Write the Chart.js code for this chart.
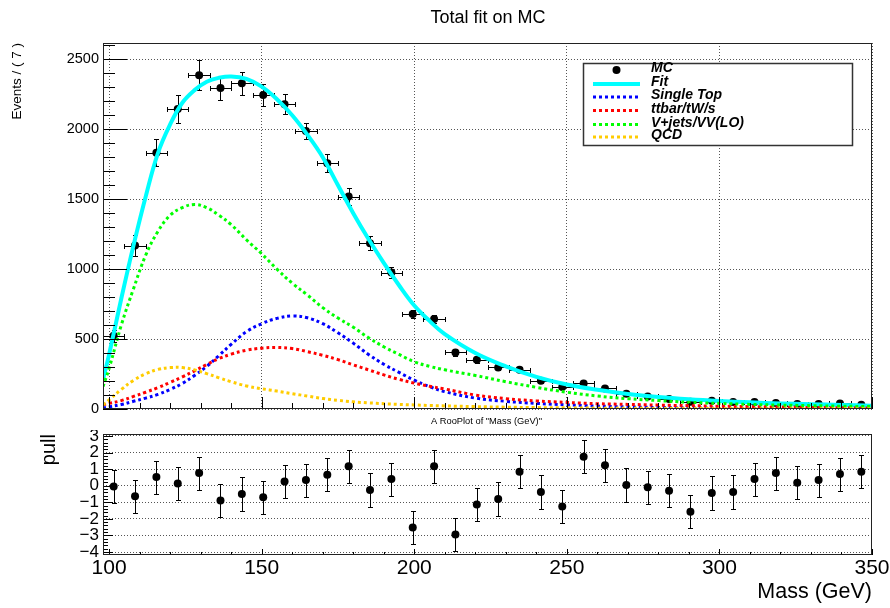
<!DOCTYPE html>
<html>
<head>
<meta charset="utf-8">
<script src="https://cdn.jsdelivr.net/npm/chart.js@4.4.1/dist/chart.umd.min.js"></script>
<style>
  html, body { margin: 0; padding: 0; background: #fff; }
  #wrap { position: relative; width: 890px; height: 608px; }
  canvas { position: absolute; left: 0; }
  #top { top: 0; }
  #pull { top: 430px; }
</style>
</head>
<body>
<div id="wrap">
  <canvas id="top" width="890" height="430"></canvas>
  <canvas id="pull" width="890" height="178"></canvas>
</div>
<script>
// bins: 36 x 7 GeV between 98 and 350
const binCentres = [101.5, 108.5, 115.5, 122.5, 129.5, 136.5, 143.5, 150.5, 157.5, 164.5, 171.5, 178.5,
  185.5, 192.5, 199.5, 206.5, 213.5, 220.5, 227.5, 234.5, 241.5, 248.5, 255.5, 262.5,
  269.5, 276.5, 283.5, 290.5, 297.5, 304.5, 311.5, 318.5, 325.5, 332.5, 339.5, 346.5];
const binHalfWidth = 3.5;
const mcEvents = [523, 1169, 1833, 2145, 2386, 2295, 2329, 2245, 2179, 1988, 1757, 1519,
  1186, 976, 679, 643, 404, 352, 297, 281, 202, 157, 183, 147,
  109, 90, 71, 52, 59, 50, 50, 43, 36, 36, 40, 31];
const mcErrors = [45, 77, 96, 100, 107, 83, 83, 80, 71, 60, 63, 60,
  48, 40, 30, 28, 22, 20, 17, 17, 14, 12, 14, 12,
  10, 9, 8, 7, 7, 7, 7, 6, 6, 6, 6, 5];
const pullValues = [-0.04, -0.64, 0.52, 0.14, 0.76, -0.89, -0.50, -0.70, 0.26, 0.34, 0.66, 1.17,
  -0.26, 0.40, -2.52, 1.17, -2.94, -1.13, -0.80, 0.85, -0.38, -1.25, 1.75, 1.23,
  0.04, -0.10, -0.30, -1.57, -0.44, -0.38, 0.40, 0.76, 0.18, 0.34, 0.70, 0.85];
const pullError = 1;

// fitted curves, read at these masses
const curveMass = [98, 100, 104, 108, 112, 116, 120, 124, 128, 132, 136, 140, 145, 150, 155, 160, 165, 170, 175, 180,
  185, 190, 195, 200, 205, 210, 220, 230, 240, 250, 260, 270, 280, 290, 300, 310, 320, 330, 340, 350];
const fitTotal = [210, 390, 790, 1170, 1520, 1830, 2035, 2190, 2280, 2340, 2368, 2378, 2360, 2305, 2215, 2100, 1960, 1800, 1600, 1400,
  1215, 1045, 885, 740, 630, 535, 400, 305, 230, 175, 137, 107, 85, 69, 57, 48, 40, 34, 29, 24];
const singleTop = [7, 15, 32, 55, 78, 104, 140, 183, 240, 305, 382, 462, 553, 610, 648, 665, 652, 610, 545, 471,
  390, 320, 262, 206, 160, 124, 78, 55, 40, 30, 21, 15, 11, 8, 6, 5, 4, 3, 2, 2];
const ttbar = [30, 40, 60, 90, 120, 153, 190, 229, 273, 318, 361, 392, 420, 435, 440, 432, 410, 384, 353, 316,
  280, 244, 212, 185, 162, 143, 100, 74, 58, 47, 38, 33, 28, 24, 20, 17, 14, 11, 9, 7];
const vjets = [160, 290, 600, 860, 1100, 1270, 1385, 1440, 1462, 1440, 1385, 1318, 1210, 1110, 1000, 900, 815, 725, 650, 585,
  510, 445, 390, 338, 305, 280, 240, 195, 155, 120, 93, 74, 60, 48, 40, 33, 28, 24, 20, 17];
const qcd = [30, 65, 140, 205, 252, 283, 296, 296, 280, 253, 223, 195, 165, 145, 128, 110, 92, 75, 62, 51,
  44, 38, 33, 29, 25, 22, 17, 13, 10, 8, 6, 5, 4, 3, 3, 2, 2, 2, 1, 1];

const massTicks = [100, 150, 200, 250, 300, 350];
const eventTicks = [0, 500, 1000, 1500, 2000, 2500];
const pullTicks = [-4, -3, -2, -1, 0, 1, 2, 3];

const FONT = '"Liberation Sans", Arial, Helvetica, sans-serif';
Chart.defaults.font.family = FONT;
Chart.defaults.color = '#000';

function curve(vals) {
  return curveMass.map((m, i) => ({ x: m, y: vals[i] }));
}
function useTicks(list) {
  return s => { s.ticks = list.map(v => ({ value: v })); };
}
function fixBox(w, h) {
  return s => {
    if (w !== null) s.width = w;
    if (h !== null) s.height = h;
    s.paddingLeft = s.paddingRight = s.paddingTop = s.paddingBottom = 0;
  };
}
const plainLabel = v => (v < 0 ? '\u2212' + Math.abs(v) : String(v));

// ROOT style: ticks drawn inwards + frame
function rootAxes(cfg) {
  return {
    id: 'rootAxes',
    afterDatasetsDraw(chart) {
      const { ctx, chartArea: a } = chart;
      ctx.save();
      ctx.strokeStyle = '#000';
      ctx.lineWidth = 1;
      ctx.beginPath();
      for (const id of ['x', 'y']) {
        const t = cfg[id], s = chart.scales[id];
        const k0 = Math.ceil(s.min / t.minor - 1e-9), k1 = Math.floor(s.max / t.minor + 1e-9);
        for (let k = k0; k <= k1; k++) {
          const v = k * t.minor;
          const major = Math.abs(v / t.major - Math.round(v / t.major)) < 1e-6;
          const len = major ? t.majorLen : t.minorLen;
          const p = Math.round(s.getPixelForValue(v)) + 0.5;
          if (id === 'x') { ctx.moveTo(p, a.bottom); ctx.lineTo(p, a.bottom - len); }
          else { ctx.moveTo(a.left, p); ctx.lineTo(a.left + len, p); }
        }
      }
      ctx.stroke();
      ctx.strokeStyle = '#222';
      ctx.strokeRect(Math.round(a.left) + 0.5, Math.round(a.top) + 0.5,
        Math.round(a.right - a.left) - 1, Math.round(a.bottom - a.top) - 1);
      ctx.restore();
    }
  };
}

const errorBars = {
  id: 'errorBars',
  beforeDatasetsDraw(chart) {
    const { ctx, chartArea: a, scales: { x, y } } = chart;
    const cap = 2.5;
    ctx.save();
    ctx.beginPath();
    ctx.rect(a.left, a.top, a.right - a.left, a.bottom - a.top);
    ctx.clip();
    ctx.strokeStyle = '#000';
    ctx.lineWidth = 1;
    ctx.beginPath();
    chart.data.datasets.forEach(ds => {
      if (!ds.yErr) return;
      ds.data.forEach((pt, i) => {
        const px = Math.round(x.getPixelForValue(pt.x)) + 0.5;
        const py = Math.round(y.getPixelForValue(pt.y)) + 0.5;
        const yt = Math.round(y.getPixelForValue(pt.y + ds.yErr[i])) + 0.5;
        const yb = Math.round(y.getPixelForValue(pt.y - ds.yErr[i])) + 0.5;
        ctx.moveTo(px, yt); ctx.lineTo(px, yb);
        ctx.moveTo(px - cap, yt); ctx.lineTo(px + cap, yt);
        ctx.moveTo(px - cap, yb); ctx.lineTo(px + cap, yb);
        if (ds.xErr) {
          const xl = Math.round(x.getPixelForValue(pt.x - ds.xErr)) + 0.5;
          const xr = Math.round(x.getPixelForValue(pt.x + ds.xErr)) + 0.5;
          ctx.moveTo(xl, py); ctx.lineTo(xr, py);
          ctx.moveTo(xl, py - cap); ctx.lineTo(xl, py + cap);
          ctx.moveTo(xr, py - cap); ctx.lineTo(xr, py + cap);
        }
      });
    });
    ctx.stroke();
    ctx.restore();
  }
};

function rootLegend(box) {
  return {
    id: 'rootLegend',
    afterDraw(chart) {
      const { ctx } = chart;
      ctx.save();
      ctx.fillStyle = '#fff';
      ctx.fillRect(box.left, box.top, box.width, box.height);
      ctx.strokeStyle = '#333';
      ctx.lineWidth = 1.5;
      ctx.strokeRect(box.left, box.top, box.width, box.height);
      ctx.font = box.font;
      ctx.textBaseline = 'middle';
      chart.data.datasets.forEach((ds, i) => {
        const yy = box.rows[i];
        if (ds.showLine === false) {
          ctx.fillStyle = '#000';
          ctx.beginPath();
          ctx.arc((box.symX0 + box.symX1) / 2, yy, 4, 0, Math.PI * 2);
          ctx.fill();
        } else {
          ctx.strokeStyle = ds.borderColor;
          ctx.lineWidth = ds.borderWidth;
          ctx.setLineDash(ds.borderDash || []);
          ctx.beginPath();
          ctx.moveTo(box.symX0, yy);
          ctx.lineTo(box.symX1, yy);
          ctx.stroke();
          ctx.setLineDash([]);
        }
        ctx.fillStyle = '#000';
        ctx.fillText(ds.label, box.textX, yy - 1.5);
      });
      ctx.restore();
    }
  };
}

function rootText(items) {
  return {
    id: 'rootText',
    afterDraw(chart) {
      const { ctx } = chart;
      ctx.save();
      ctx.fillStyle = '#000';
      items.forEach(t => {
        ctx.font = t.font;
        ctx.textAlign = t.align;
        ctx.textBaseline = 'alphabetic';
        ctx.fillText(t.text, t.x, t.y);
      });
      ctx.restore();
    }
  };
}

const gridOpts = { color: '#555', lineWidth: 1, drawTicks: false };
const borderOpts = { display: false, dash: [1, 2] };

new Chart(document.getElementById('top'), {
  type: 'line',
  data: {
    datasets: [
      { label: 'MC', data: binCentres.map((x, i) => ({ x, y: mcEvents[i] })), showLine: false,
        pointRadius: 4, pointBackgroundColor: '#000', pointBorderWidth: 0,
        yErr: mcErrors, xErr: binHalfWidth, order: 10 },
      { label: 'Fit', data: curve(fitTotal), borderColor: '#00ffff', borderWidth: 4,
        pointRadius: 0, tension: 0.4, borderJoinStyle: 'round', order: 5 },
      { label: 'Single Top', data: curve(singleTop), borderColor: '#0000ff', borderWidth: 3,
        borderDash: [3, 3], pointRadius: 0, tension: 0.4, order: 4 },
      { label: 'ttbar/tW/s', data: curve(ttbar), borderColor: '#ff0000', borderWidth: 3,
        borderDash: [3, 3], pointRadius: 0, tension: 0.4, order: 3 },
      { label: 'V+jets/VV(LO)', data: curve(vjets), borderColor: '#00ff00', borderWidth: 3,
        borderDash: [3, 3], pointRadius: 0, tension: 0.4, order: 2 },
      { label: 'QCD', data: curve(qcd), borderColor: '#ffcc00', borderWidth: 3,
        borderDash: [3, 3], pointRadius: 0, tension: 0.4, order: 1 }
    ]
  },
  options: {
    responsive: false,
    animation: false,
    events: [],
    layout: { padding: { top: 43, right: 18, bottom: 21, left: 0 } },
    plugins: { legend: { display: false }, tooltip: { enabled: false } },
    scales: {
      x: {
        type: 'linear', min: 98, max: 350,
        afterBuildTicks: useTicks(massTicks),
        ticks: { display: false },
        grid: gridOpts, border: borderOpts,
        afterFit: fixBox(null, 0)
      },
      y: {
        min: 0, max: 2617,
        afterBuildTicks: useTicks(eventTicks),
        ticks: { padding: 4, font: { size: 14.5 }, autoSkip: false, callback: plainLabel },
        grid: gridOpts, border: borderOpts,
        title: { display: true, text: 'Events / ( 7 )', align: 'end', font: { size: 13.5 }, padding: { top: 9.5, bottom: 0 } },
        afterFit: fixBox(103, null)
      }
    }
  },
  plugins: [
    errorBars,
    rootAxes({ x: { minor: 10, major: 50, minorLen: 6, majorLen: 12 },
               y: { minor: 100, major: 500, minorLen: 12, majorLen: 24 } }),
    rootLegend({ left: 583.5, top: 63.5, width: 269, height: 82,
                 symX0: 593, symX1: 640, textX: 651,
                 rows: [70, 84, 97, 110.5, 124.5, 137],
                 font: 'italic bold 14px ' + FONT }),
    rootText([
      { text: 'Total fit on MC', x: 488, y: 22.5, font: '18px ' + FONT, align: 'center' },
      { text: 'A RooPlot of "Mass (GeV)"', x: 486.5, y: 423.5, font: '9.3px ' + FONT, align: 'center' }
    ])
  ]
});

new Chart(document.getElementById('pull'), {
  type: 'scatter',
  data: {
    datasets: [
      { label: 'pull', data: binCentres.map((x, i) => ({ x, y: pullValues[i] })),
        pointRadius: 4, pointBackgroundColor: '#000', pointBorderWidth: 0,
        yErr: pullValues.map(() => pullError) }
    ]
  },
  options: {
    responsive: false,
    animation: false,
    events: [],
    layout: { padding: { top: 3, right: 18, bottom: 0, left: 0 } },
    plugins: { legend: { display: false }, tooltip: { enabled: false } },
    scales: {
      x: {
        type: 'linear', min: 98, max: 350,
        afterBuildTicks: useTicks(massTicks),
        ticks: { padding: 1, font: { size: 21 }, maxRotation: 0, autoSkip: false, callback: plainLabel },
        grid: { display: false, drawTicks: false }, border: { display: false },
        title: { display: true, text: 'Mass (GeV)', align: 'end', font: { size: 21.5 }, padding: { top: 0, bottom: 3 } },
        afterFit: fixBox(null, 53)
      },
      y: {
        min: -4.18, max: 3.12,
        afterBuildTicks: useTicks(pullTicks),
        ticks: { padding: 4, font: { size: 17 }, autoSkip: false, callback: plainLabel },
        grid: gridOpts, border: borderOpts,
        title: { display: true, text: 'pull', align: 'end', font: { size: 20 }, padding: { top: 37, bottom: 0 } },
        afterFit: fixBox(103, null)
      }
    }
  },
  plugins: [
    errorBars,
    rootAxes({ x: { minor: 10, major: 50, minorLen: 3, majorLen: 6 },
               y: { minor: 0.2, major: 1, minorLen: 5, majorLen: 10 } })
  ]
});
</script>
</body>
</html>
